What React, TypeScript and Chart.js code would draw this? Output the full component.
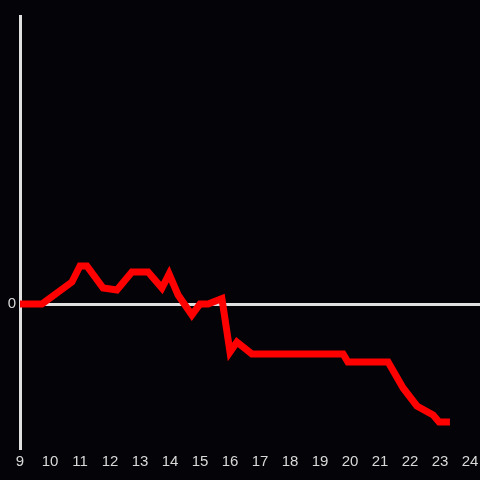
import React, { useEffect, useRef } from "react";
import { Chart, registerables } from "chart.js";

Chart.register(...registerables);

const hours: number[] = [9, 9.73, 10.73, 11.0, 11.23, 11.77, 12.23, 12.73, 13.27, 13.73, 13.97, 14.27, 14.73, 15.0, 15.27, 15.73, 16.0, 16.23, 16.73, 19.77, 19.93, 21.27, 21.77, 22.23, 22.77, 22.97, 23.33];
const values: number[] = [0, 0, 1.53, 2.64, 2.64, 1.11, 0.97, 2.22, 2.22, 1.11, 2.08, 0.63, -0.76, 0, 0, 0.38, -3.33, -2.64, -3.47, -3.47, -4.03, -4.03, -5.83, -7.08, -7.71, -8.19, -8.19];
const xTicks: number[] = [9, 10, 11, 12, 13, 14, 15, 16, 17, 18, 19, 20, 21, 22, 23, 24];
const yTicks: number[] = [0];

export default function App() {
  const ref = useRef<HTMLCanvasElement | null>(null);
  useEffect(() => {
    document.body.style.margin = "0";
    const canvas = ref.current;
    if (!canvas) return;
    const chart = new Chart(canvas, {
      type: "line",
      data: {
        datasets: [
          {
            data: hours.map((h, i) => ({ x: h, y: values[i] })),
            borderColor: "#ff0000",
            borderWidth: 7,
            pointRadius: 0,
            tension: 0,
            fill: false,
          },
        ],
      },
      options: {
        animation: false,
        responsive: false,
        maintainAspectRatio: false,
        layout: { padding: { top: 16, right: 0, left: 0, bottom: 0 } },
        plugins: { legend: { display: false }, tooltip: { enabled: false } },
        scales: {
          x: {
            type: "linear",
            min: 9,
            max: 24.333,
            afterBuildTicks: (s: any) => {
              s.ticks = xTicks.map((v) => ({ value: v }));
            },
            afterFit: (s: any) => {
              s.height = 32;
              s.paddingRight = 0;
              s.paddingLeft = 0;
            },
            grid: { display: false, drawTicks: false },
            border: { display: false },
            ticks: {
              color: "#d8d8d8",
              font: { family: "Liberation Sans, Arial, sans-serif", size: 15 },
              padding: 5,
              maxRotation: 0,
              autoSkip: false,
            },
          },
          y: {
            type: "linear",
            min: -10,
            max: 20,
            afterBuildTicks: (s: any) => {
              s.ticks = yTicks.map((v) => ({ value: v }));
            },
            afterFit: (s: any) => {
              s.width = 20;
              s.paddingTop = 0;
              s.paddingBottom = 0;
            },
            grid: {
              drawTicks: false,
              lineWidth: 3,
              color: (c: any) => (c.tick && c.tick.value === 0 ? "#e0e0e0" : "transparent"),
            },
            border: { display: true, color: "#e0e0e0", width: 3 },
            ticks: {
              color: "#d8d8d8",
              font: { family: "Liberation Sans, Arial, sans-serif", size: 15 },
              padding: 4,
            },
          },
        },
      },
    });
    return () => chart.destroy();
  }, []);
  return (
    <div style={{ position: "absolute", left: 0, top: 0, width: 480, height: 480, background: "#040307" }}>
      <canvas ref={ref} width={480} height={480} style={{ width: 480, height: 480, display: "block" }} />
    </div>
  );
}
